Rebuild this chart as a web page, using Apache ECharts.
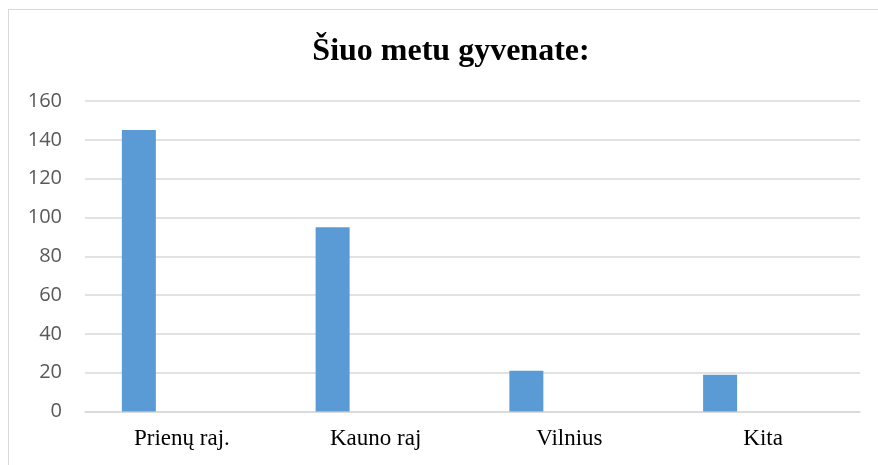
<!DOCTYPE html>
<html>
<head>
<meta charset="utf-8">
<script src="https://cdn.jsdelivr.net/npm/echarts@6/dist/echarts.min.js"></script>
<style>
  html, body { margin: 0; padding: 0; background: #fff; }
  #frame { position: absolute; left: 8px; top: 9px; width: 900px; height: 500px; border-left: 1px solid #d9d9d9; border-top: 1px solid #d9d9d9; }
  #chart { position: absolute; left: 0; top: 0; width: 878px; height: 465px; }
</style>
</head>
<body>
<div id="frame"></div>
<div id="chart"></div>
<script>
  const categories = ["Prienų raj.", "Kauno raj", "Vilnius", "Kita"];
  const residents = [145, 95, 21, 19];
  const emptySeries = [null, null, null, null];

  const myChart = echarts.init(document.getElementById("chart"));
  myChart.setOption({
    animation: false,
    title: {
      text: "Šiuo metu gyvenate:",
      left: 446,
      textAlign: "center",
      top: 31,
      textStyle: {
        fontFamily: "Liberation Serif",
        fontWeight: "bold",
        fontSize: 32,
        color: "#000",
      },
    },
    grid: { left: 85, right: 18, top: 101, bottom: 53.5 },
    xAxis: {
      type: "category",
      data: categories,
      axisTick: { show: false },
      axisLine: { lineStyle: { color: "#d9d9d9", width: 1.5 } },
      axisLabel: {
        fontFamily: "Liberation Serif",
        fontSize: 23,
        color: "#000",
        margin: 16,
      },
    },
    yAxis: {
      type: "value",
      min: 0,
      max: 160,
      interval: 20,
      axisLine: { show: false },
      axisTick: { show: false },
      axisLabel: {
        fontFamily: "Open Sans",
        fontSize: 20,
        color: "#595959",
        margin: 23,
      },
      splitLine: { lineStyle: { color: "#d9d9d9", width: 1.5 } },
    },
    series: [
      {
        type: "bar",
        data: residents,
        barWidth: 34,
        barGap: "153%",
        itemStyle: { color: "#5b9bd5" },
      },
      {
        type: "bar",
        data: emptySeries,
        barWidth: 34,
        itemStyle: { color: "#ed7d31" },
      },
    ],
  });
</script>
</body>
</html>
